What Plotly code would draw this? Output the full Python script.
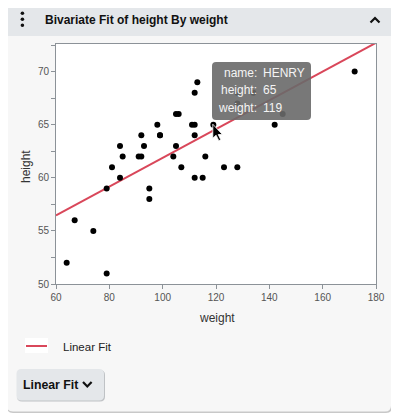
import numpy as np
import plotly.graph_objects as go

# ---- data (Big Class) ----
names = ["LILLIE", "SUSAN", "JANE", "ROBERT", "DAVID", "JUDY", "TIM", "CAROL", "PATTY",
         "ELIZABETH", "MARY", "LEWIS", "FREDERICK", "KATIE", "MICHAEL", "JOHN", "ALFRED",
         "CHRIS", "MARK", "JOE", "CLAY", "DANNY", "ALICE", "WILLIAM", "MARTHA", "AMY",
         "EDWARD", "BARBARA", "JEFFREY", "MARION", "LINDA", "HENRY", "LOUISE", "JAMES",
         "ROBERT", "PHILLIP", "KIRK", "LESLIE", "JACLYN", "LAWRENCE"]
weight = [64, 67, 74, 79, 79, 81, 84, 84, 85, 91, 92, 92, 93, 95, 95, 98, 99, 99, 104, 105,
          105, 106, 107, 111, 112, 112, 112, 112, 113, 115, 116, 119, 123, 128, 128, 128,
          134, 142, 145, 172]
height = [52, 56, 55, 51, 59, 61, 60, 63, 62, 62, 62, 64, 63, 59, 58, 65, 64, 64, 62, 63,
          66, 66, 61, 65, 65, 64, 68, 60, 69, 60, 62, 65, 61, 61, 67, 68, 68, 65, 66, 70]
x_ticks = [60, 80, 100, 120, 140, 160, 180]
y_ticks = [50, 55, 60, 65, 70]
y_minor = [52.5, 57.5, 62.5, 67.5, 72.5]
title_text = "Bivariate Fit of height By weight"
fit_name = "Linear Fit"
hover_name, hover_height, hover_weight = "HENRY", 65, 119

# ---- geometry helpers (page pixel -> paper); page body has an 8px margin ----
OFF = 8
W, H = 399 - OFF, 419 - OFF
L, R, T, B = 56, 376, 44, 284          # plot area in page pixels
def px(x):
    return (x - L) / (R - L)
def py(y):
    return (B - y) / (B - T)

def rrect(x0, y0, x1, y1, r, top_only=False):
    if top_only:
        return (f"M{px(x0)},{py(y1)} L{px(x0)},{py(y0 + r)} Q{px(x0)},{py(y0)} {px(x0 + r)},{py(y0)} "
                f"L{px(x1 - r)},{py(y0)} Q{px(x1)},{py(y0)} {px(x1)},{py(y0 + r)} L{px(x1)},{py(y1)} Z")
    return (f"M{px(x0 + r)},{py(y0)} L{px(x1 - r)},{py(y0)} Q{px(x1)},{py(y0)} {px(x1)},{py(y0 + r)} "
            f"L{px(x1)},{py(y1 - r)} Q{px(x1)},{py(y1)} {px(x1 - r)},{py(y1)} "
            f"L{px(x0 + r)},{py(y1)} Q{px(x0)},{py(y1)} {px(x0)},{py(y1 - r)} "
            f"L{px(x0)},{py(y0 + r)} Q{px(x0)},{py(y0)} {px(x0 + r)},{py(y0)} Z")

FONT = "Liberation Sans, Arial, sans-serif"
RED = "#d9475a"

# ---- linear fit from the data ----
slope, intercept = np.polyfit(weight, height, 1)
fit_x = [x_ticks[0], x_ticks[-1]]
fit_y = [intercept + slope * v for v in fit_x]

fig = go.Figure()
fig.add_trace(go.Scatter(x=fit_x, y=fit_y, mode="lines", name=fit_name,
                         line=dict(color=RED, width=2), showlegend=False,
                         hoverinfo="skip"))
fig.add_trace(go.Scatter(x=weight, y=height, mode="markers", text=names,
                         marker=dict(color="black", size=6), showlegend=False))

shapes = []
# card shadow + card
shapes.append(dict(type="path", xref="paper", yref="paper", layer="below",
                   path=rrect(7, 5, 392, 413, 6), fillcolor="#c8c8c8", line=dict(width=0)))
shapes.append(dict(type="path", xref="paper", yref="paper", layer="below",
                   path=rrect(7, 4, 391, 411.5, 6), fillcolor="#f7f7f7", line=dict(width=0)))
# header
shapes.append(dict(type="path", xref="paper", yref="paper", layer="below",
                   path=rrect(7, 4, 391, 36, 6, top_only=True), fillcolor="#e4e7ea",
                   line=dict(width=0)))
# plot area white
shapes.append(dict(type="rect", xref="paper", yref="paper", layer="below",
                   x0=0, x1=1, y0=0, y1=1, fillcolor="white", line=dict(width=0)))
# header dots
for cy in (13.3, 19.3, 25.3):
    shapes.append(dict(type="circle", xref="paper", yref="paper",
                       x0=px(20.6), x1=px(24.2), y0=py(cy - 1.8), y1=py(cy + 1.8),
                       fillcolor="#111", line=dict(width=0)))
# header up chevron
shapes.append(dict(type="path", xref="paper", yref="paper",
                   path=f"M{px(370.5)},{py(22.5)} L{px(375)},{py(18)} L{px(379.5)},{py(22.5)}",
                   line=dict(color="#111", width=2.2)))
# legend sample
shapes.append(dict(type="rect", xref="paper", yref="paper",
                   x0=px(25), x1=px(48), y0=py(353), y1=py(338),
                   fillcolor="white", line=dict(width=0)))
shapes.append(dict(type="line", xref="paper", yref="paper",
                   x0=px(26), x1=px(47), y0=py(346), y1=py(346),
                   line=dict(color=RED, width=2)))
# button shadow + button
shapes.append(dict(type="path", xref="paper", yref="paper",
                   path=rrect(17, 370, 105, 401.5, 5), fillcolor="#bfc2c5", line=dict(width=0)))
shapes.append(dict(type="path", xref="paper", yref="paper",
                   path=rrect(16.5, 369, 104, 400.5, 5), fillcolor="#e4e7ea", line=dict(width=0)))
shapes.append(dict(type="path", xref="paper", yref="paper",
                   path=f"M{px(83)},{py(382)} L{px(87.3)},{py(386.5)} L{px(91.6)},{py(382)}",
                   line=dict(color="#111", width=2.2)))
# tooltip box
shapes.append(dict(type="path", xref="paper", yref="paper",
                   path=rrect(212, 62, 311, 120, 4), fillcolor="rgba(105,105,105,0.9)",
                   line=dict(width=0)))
# mouse cursor
cx, cy0 = 212.8, 124.2
cur = [(0, 0), (0, 14), (3.3, 11), (6, 16.5), (8, 15.6), (5.4, 10.3), (9.6, 10.3)]
cpath = "M" + " L".join(f"{px(cx + a)},{py(cy0 + b)}" for a, b in cur) + " Z"
shapes.append(dict(type="path", xref="paper", yref="paper", path=cpath,
                   fillcolor="black", line=dict(color="white", width=0.8)))

ann = []
ann.append(dict(text=title_text, x=px(42.5), y=py(19.5), xref="paper", yref="paper",
                xanchor="left", yanchor="middle", showarrow=False,
                font=dict(family=FONT, size=12, color="#111", weight="bold")))
ann.append(dict(text="height", x=px(26), y=py(167), xref="paper", yref="paper",
                textangle=-90, xanchor="center", yanchor="middle", showarrow=False,
                font=dict(family=FONT, size=12, color="#333")))
ann.append(dict(text="weight", x=px(217), y=py(318), xref="paper", yref="paper",
                xanchor="center", yanchor="middle", showarrow=False,
                font=dict(family=FONT, size=12, color="#333")))
ann.append(dict(text=fit_name, x=px(61), y=py(346.5), xref="paper", yref="paper",
                xanchor="left", yanchor="middle", showarrow=False,
                font=dict(family=FONT, size=11.5, color="#222")))
ann.append(dict(text=fit_name, x=px(20.5), y=py(385), xref="paper", yref="paper",
                xanchor="left", yanchor="middle", showarrow=False,
                font=dict(family=FONT, size=12.3, color="#111", weight="bold")))
rows = [("name:", hover_name, 72.5), ("height:", str(hover_height), 90.2),
        ("weight:", str(hover_weight), 107.8)]
for lab, val, yy in rows:
    ann.append(dict(text=lab, x=px(258.5), y=py(yy), xref="paper", yref="paper",
                    xanchor="right", yanchor="middle", showarrow=False,
                    font=dict(family=FONT, size=12, color="#f4f4f4")))
    ann.append(dict(text=val, x=px(261), y=py(yy), xref="paper", yref="paper",
                    xanchor="left", yanchor="middle", showarrow=False,
                    font=dict(family=FONT, size=12, color="#f4f4f4")))

axis_common = dict(showgrid=False, zeroline=False, showline=True, mirror=True,
                   linecolor="#8c9298", linewidth=1, ticks="outside", ticklen=4,
                   tickcolor="#8c9298", tickfont=dict(family=FONT, size=10, color="#555"))
fig.update_layout(
    width=W, height=H, autosize=False,
    margin=dict(l=L - OFF, r=W - (R - OFF), t=T - OFF, b=H - (B - OFF), pad=0),
    paper_bgcolor="white", plot_bgcolor="rgba(0,0,0,0)",
    xaxis=dict(range=[x_ticks[0], x_ticks[-1]], tickvals=x_ticks, **axis_common),
    yaxis=dict(range=[50, 72.6], tickvals=y_ticks,
               minor=dict(tickvals=y_minor, ticklen=4,
                          tickcolor="#8c9298", ticks="outside"),
               **axis_common),
    shapes=shapes, annotations=ann, showlegend=False,
)
fig.write_html("out.html")
